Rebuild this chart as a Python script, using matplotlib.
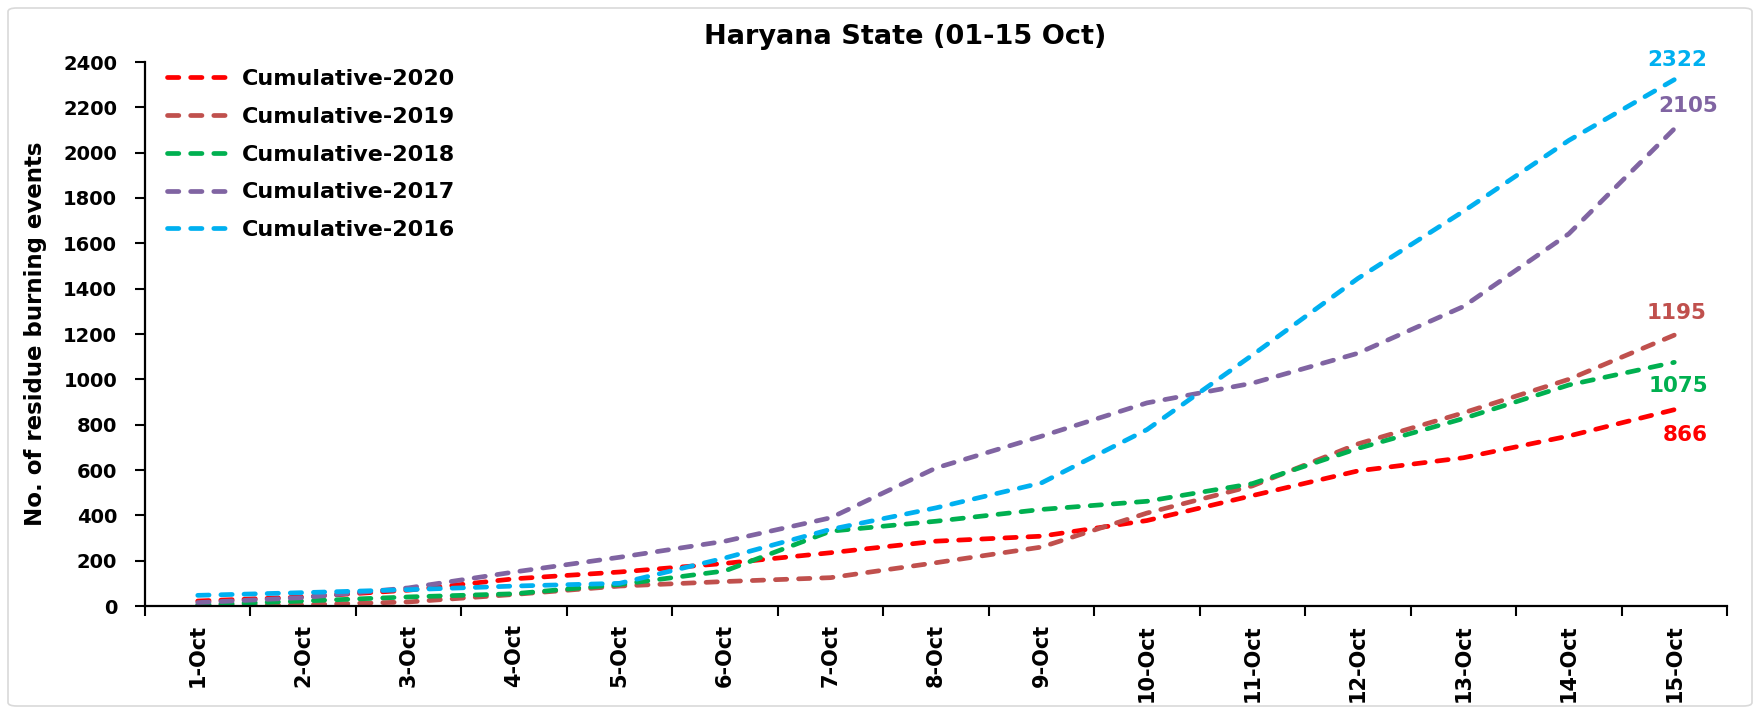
import matplotlib
matplotlib.use("Agg")
import matplotlib.pyplot as plt
from matplotlib.patches import FancyBboxPatch

# ---- data ----
dates = ["1-Oct", "2-Oct", "3-Oct", "4-Oct", "5-Oct", "6-Oct", "7-Oct", "8-Oct",
         "9-Oct", "10-Oct", "11-Oct", "12-Oct", "13-Oct", "14-Oct", "15-Oct"]
cum_2020 = [22, 40, 70, 120, 150, 188, 235, 286, 308, 377, 487, 596, 654, 750, 866]
cum_2019 = [2, 5, 18, 51, 88, 108, 125, 191, 260, 410, 530, 715, 852, 1000, 1195]
cum_2018 = [5, 22, 40, 54, 95, 155, 330, 374, 426, 462, 540, 695, 827, 975, 1075]
cum_2017 = [15, 37, 80, 150, 215, 286, 389, 609, 749, 896, 983, 1115, 1321, 1642, 2105]
cum_2016 = [47, 59, 72, 88, 100, 212, 338, 433, 543, 778, 1107, 1445, 1741, 2054, 2322]
series_names = ["Cumulative-2020", "Cumulative-2019", "Cumulative-2018",
                "Cumulative-2017", "Cumulative-2016"]
y_ticks = [0, 200, 400, 600, 800, 1000, 1200, 1400, 1600, 1800, 2000, 2200, 2400]

series = [cum_2020, cum_2019, cum_2018, cum_2017, cum_2016]
colors = ["#FF0000", "#C0504D", "#00B050", "#8064A2", "#00B0F0"]
label_offsets = [(11, -25), (2, 22), (4, -24), (14, 23), (3, 20)]

plt.rcParams['font.family'] = ['DejaVu Sans']
plt.rcParams['font.weight'] = 'bold'

W, H = 1760, 714
fig = plt.figure(figsize=(W / 100, H / 100), dpi=100)
fig.patch.set_facecolor("white")
fig.patches.append(FancyBboxPatch((8 / W, 8 / H), 1 - 16 / W, 1 - 16 / H,
                                  boxstyle="round,pad=0,rounding_size=0.005",
                                  transform=fig.transFigure, fill=False,
                                  edgecolor="#d9d9d9", linewidth=1.2))

ax = fig.add_axes([145 / W, 1 - 606 / H, (1727 - 145) / W, (606 - 62) / H])
x = list(range(len(dates)))

for name, vals, c, off in zip(series_names, series, colors, label_offsets):
    ax.plot(x, vals, color=c, lw=3.4, linestyle=(0, (2.4, 2.5)),
            dash_capstyle='round', label=name)
    ax.annotate(str(vals[-1]), (x[-1], vals[-1]), xytext=off,
                textcoords='offset pixels', ha='center', va='center',
                color=c, fontsize=15.5, fontweight='bold')

ax.set_xlim(-0.5, len(dates) - 0.5)
ax.set_ylim(0, 2400)
ax.set_yticks(y_ticks)
ax.set_yticklabels([str(v) for v in y_ticks], fontsize=14, fontweight='bold')
ax.set_xticks(x)
ax.set_xticklabels(dates, rotation=90, fontsize=15, fontweight='bold')
ax.set_xticks([i - 0.5 for i in range(len(dates) + 1)], minor=True)
ax.tick_params(axis='x', which='major', length=0, pad=13)
ax.tick_params(axis='x', which='minor', length=7, width=1.5, direction='out')
ax.tick_params(axis='y', length=7, width=1.5, direction='out', pad=13)

for s in ["top", "right"]:
    ax.spines[s].set_visible(False)
for s in ["left", "bottom"]:
    ax.spines[s].set_linewidth(1.6)
    ax.spines[s].set_color("black")

ax.set_ylabel("No. of residue burning events", fontsize=16.5, fontweight='bold')
ax.yaxis.set_label_coords((47 - 145) / (1727 - 145), 0.5)
fig.text(905 / W, 1 - 37 / H, "Haryana State (01-15 Oct)", ha='center', va='center',
         fontsize=19.5, fontweight='bold')

leg = fig.legend(loc='upper left', bbox_to_anchor=(167 / W, 1 - 69 / H),
                 frameon=False, fontsize=16, handlelength=2.8, handletextpad=0.55,
                 labelspacing=0.8, borderpad=0, borderaxespad=0)
for t in leg.get_texts():
    t.set_fontweight('bold')

fig.savefig("out.png", dpi=100)
